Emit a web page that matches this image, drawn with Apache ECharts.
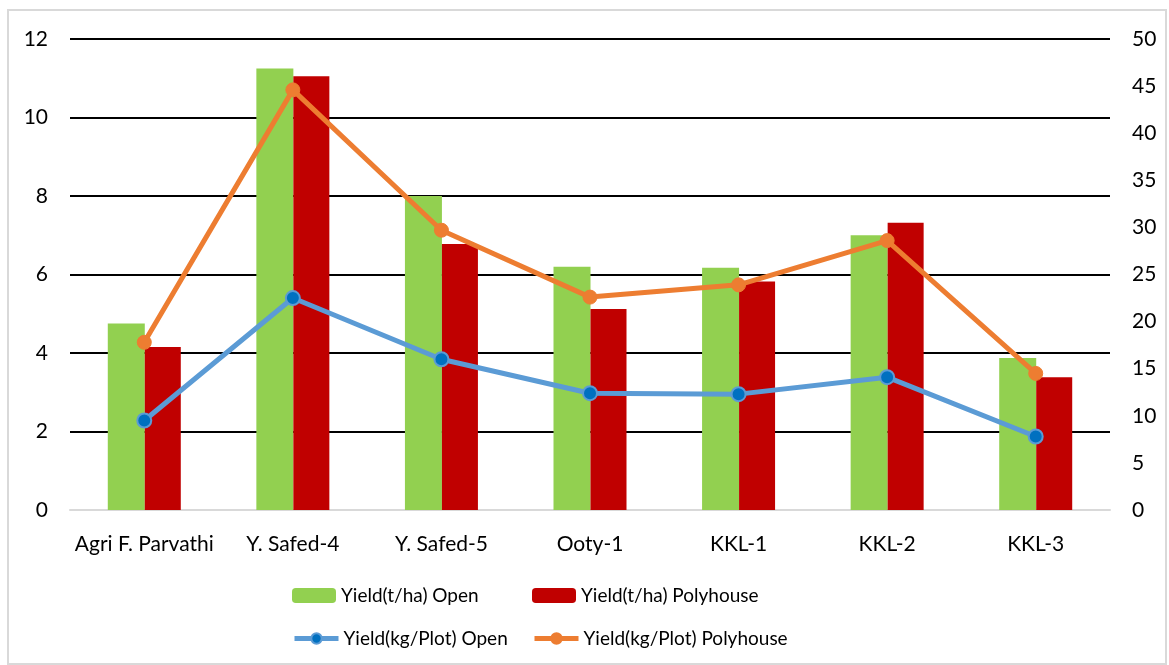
<!DOCTYPE html>
<html>
<head>
<meta charset="utf-8">
<script src="https://cdn.jsdelivr.net/npm/echarts@6/dist/echarts.min.js"></script>
<style>
  html, body { margin: 0; padding: 0; background: #fff; }
  #frame { position: absolute; left: 7px; top: 9px; width: 1156px; height: 652px; border: 2px solid #D9D9D9; }
  #chart { position: absolute; left: 0; top: 0; width: 1169px; height: 665px; }
</style>
</head>
<body>
<div id="frame"></div>
<div id="chart"></div>
<script>
var categories = ['Agri F. Parvathi', 'Y. Safed-4', 'Y. Safed-5', 'Ooty-1', 'KKL-1', 'KKL-2', 'KKL-3'];
var yieldHaOpen = [4.75, 11.25, 8.0, 6.2, 6.17, 7.0, 3.87];
var yieldHaPoly = [4.15, 11.05, 6.78, 5.12, 5.82, 7.32, 3.38];
var yieldPlotOpen = [9.5, 22.5, 16.0, 12.4, 12.3, 14.1, 7.8];
var yieldPlotPoly = [17.8, 44.6, 29.7, 22.6, 23.9, 28.6, 14.5];

var font = 'Lato, "Open Sans", sans-serif';
var myChart = echarts.init(document.getElementById('chart'));

function legendFor(name, left, top, isBar) {
    return {
        data: [name],
        left: left,
        top: top,
        itemWidth: 44,
        itemHeight: isBar ? 15 : 13,
        itemGap: 5,
        lineStyle: { width: 5 },
        textStyle: { color: '#000', fontSize: 19, fontFamily: font }
    };
}

var option = {
    animation: false,
    backgroundColor: 'transparent',
    legend: [
        legendFor('Yield(t/ha) Open', 287, 581, true),
        legendFor('Yield(t/ha) Polyhouse', 527, 581, true),
        legendFor('Yield(kg/Plot) Open', 287, 624, false),
        legendFor('Yield(kg/Plot) Polyhouse', 527, 624, false)
    ],
    grid: { left: 70, right: 59, top: 39, bottom: 155 },
    xAxis: {
        type: 'category',
        data: categories,
        axisTick: { show: false },
        axisLine: { lineStyle: { color: '#D9D9D9', width: 2 } },
        axisLabel: { color: '#000', fontSize: 21, fontFamily: font, margin: 24, interval: 0 }
    },
    yAxis: [
        {
            type: 'value', min: 0, max: 12, interval: 2,
            axisLine: { show: false }, axisTick: { show: false },
            splitLine: { lineStyle: { color: '#000', width: 2 } },
            axisLabel: { color: '#000', fontSize: 21, fontFamily: font, margin: 22 }
        },
        {
            type: 'value', min: 0, max: 50, interval: 5,
            axisLine: { show: false }, axisTick: { show: false },
            splitLine: { show: false },
            axisLabel: { color: '#000', fontSize: 21, fontFamily: font, margin: 22 }
        }
    ],
    series: [
        {
            name: 'Yield(t/ha) Open', type: 'bar', data: yieldHaOpen,
            barWidth: 37, barGap: 0,
            itemStyle: { color: '#92D050' }
        },
        {
            name: 'Yield(t/ha) Polyhouse', type: 'bar', data: yieldHaPoly,
            barWidth: 36, barGap: 0,
            itemStyle: { color: '#C00000' }
        },
        {
            name: 'Yield(kg/Plot) Open', type: 'line', yAxisIndex: 1, data: yieldPlotOpen,
            symbol: 'circle', symbolSize: 14,
            lineStyle: { color: '#5B9BD5', width: 5 },
            itemStyle: { color: '#0070C0', borderColor: '#5B9BD5', borderWidth: 2 }
        },
        {
            name: 'Yield(kg/Plot) Polyhouse', type: 'line', yAxisIndex: 1, data: yieldPlotPoly,
            symbol: 'circle', symbolSize: 14,
            lineStyle: { color: '#ED7D31', width: 5 },
            itemStyle: { color: '#ED7D31', borderColor: '#ED7D31', borderWidth: 1 }
        }
    ]
};

myChart.setOption(option);
</script>
</body>
</html>
